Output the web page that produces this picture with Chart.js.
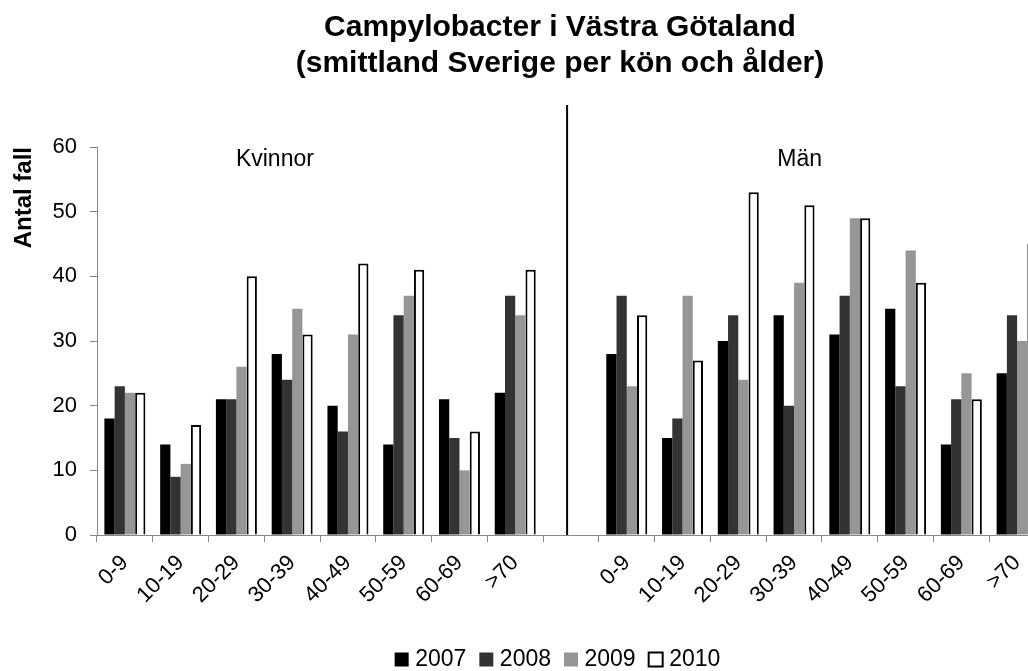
<!DOCTYPE html>
<html>
<head>
<meta charset="utf-8">
<script src="https://cdn.jsdelivr.net/npm/chart.js@4.4.1/dist/chart.umd.min.js"></script>
<style>
html,body{margin:0;padding:0;overflow:hidden;background:#fff;width:1028px;height:671px;}
#wrap{width:1120px;height:671px;position:relative;}
</style>
</head>
<body>
<div id="wrap"><canvas id="c" width="1120" height="671"></canvas></div>
<script>
const categories = ['0-9','10-19','20-29','30-39','40-49','50-59','60-69','>70','',
                    '0-9','10-19','20-29','30-39','40-49','50-59','60-69','>70'];
const years = ['2007','2008','2009','2010'];
const v2007 = [18,14,21,28,20,14,21,22,null,28,15,30,34,31,35,14,25];
const v2008 = [23, 9,21,24,16,34,15,37,null,37,18,34,20,37,23,21,34];
const v2009 = [22,11,26,35,31,37,10,34,null,23,37,24,39,49,44,25,30];
const v2010 = [22,17,40,31,42,41,16,41,null,34,27,53,51,49,39,21,45];
const groupNames = ['Kvinnor','Män'];
const yTicks = [0,10,20,30,40,50,60];

const FONT = '"Liberation Sans", Arial, sans-serif';

const overlay = {
  id: 'overlay',
  afterDatasetsDraw(chart) {
    const {ctx, scales: {x, y}} = chart;
    ctx.save();
    // divider line between groups
    const xd = x.getPixelForValue(7.93);
    ctx.strokeStyle = '#000';
    ctx.lineWidth = 2;
    ctx.beginPath();
    ctx.moveTo(xd, y.getPixelForValue(66.5));
    ctx.lineTo(xd, y.getPixelForValue(0));
    ctx.stroke();
    // group labels
    ctx.fillStyle = '#000';
    ctx.font = '23px ' + FONT;
    ctx.textAlign = 'center';
    ctx.textBaseline = 'middle';
    ctx.fillText(groupNames[0], x.getPixelForValue(2.69), y.getPixelForValue(58.1));
    ctx.fillText(groupNames[1], x.getPixelForValue(12.1), y.getPixelForValue(58.1));
    ctx.restore();
  }
};

new Chart(document.getElementById('c'), {
  type: 'bar',
  data: {
    labels: categories,
    datasets: [
      {label: years[0], data: v2007, backgroundColor: '#000000', borderColor: '#000000', borderWidth: 0},
      {label: years[1], data: v2008, backgroundColor: '#333333', borderColor: '#333333', borderWidth: 0},
      {label: years[2], data: v2009, backgroundColor: '#969696', borderColor: '#969696', borderWidth: 0},
      {label: years[3], data: v2010, backgroundColor: '#ffffff', borderColor: '#000000', borderWidth: 2}
    ]
  },
  options: {
    responsive: false,
    animation: false,
    devicePixelRatio: 1,
    layout: {padding: {left: 0, right: 0, top: 0, bottom: -10}},
    datasets: {bar: {categoryPercentage: 0.735, barPercentage: 1.0}},
    plugins: {
      tooltip: {enabled: false},
      title: {
        display: true,
        text: ['Campylobacter i Västra Götaland', '(smittland Sverige per kön och ålder)'],
        color: '#000',
        font: {family: FONT, size: 30, weight: 'bold', lineHeight: 1.2},
        padding: {top: 10, bottom: 65}
      },
      legend: {
        position: 'bottom',
        labels: {
          color: '#000',
          font: {family: FONT, size: 23},
          usePointStyle: true,
          pointStyle: 'rect',
          boxWidth: 4,
          boxHeight: 14,
          padding: 18
        }
      }
    },
    scales: {
      x: {
        grid: {display: true, drawOnChartArea: false, drawTicks: true, tickLength: 7, color: '#868686', offset: true},
        border: {display: true, color: '#868686', width: 1},
        ticks: {
          color: '#000', font: {family: FONT, size: 22},
          minRotation: 45, maxRotation: 45, autoSkip: false, padding: 8
        },
        afterFit(s) { s.height = 95; }
      },
      y: {
        min: 0, max: 60,
        afterBuildTicks(s) { s.ticks = yTicks.map(v => ({value: v})); },
        grid: {display: true, drawOnChartArea: false, drawTicks: true, tickLength: 7, color: '#868686'},
        border: {display: true, color: '#868686', width: 1},
        ticks: {color: '#000', font: {family: FONT, size: 22}, padding: 13},
        title: {
          display: true, text: 'Antal fall', align: 'end', color: '#000',
          font: {family: FONT, size: 24, weight: 'bold', lineHeight: 1.2},
          padding: {top: 10, bottom: 0}
        },
        afterFit(s) { s.width = 97; }
      },
      yR: {
        position: 'right', type: 'linear', display: true,
        grid: {display: false}, border: {display: false}, ticks: {display: false},
        afterFit(s) { s.width = 75; }
      }
    }
  },
  plugins: [overlay]
});
</script>
</body>
</html>
